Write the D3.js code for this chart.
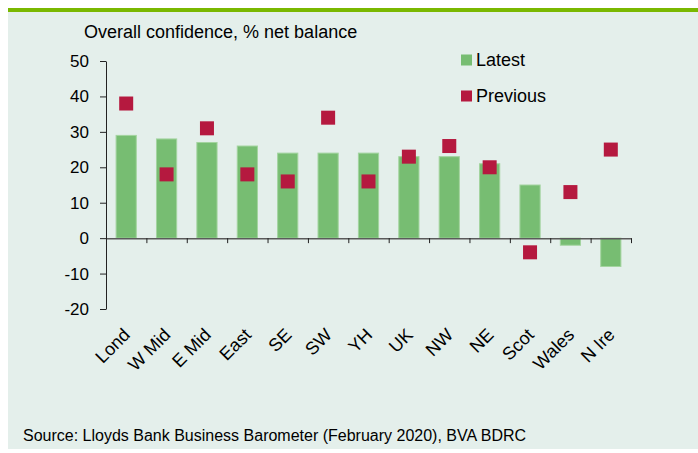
<!DOCTYPE html>
<html>
<head>
<meta charset="utf-8">
<script src="https://cdn.jsdelivr.net/npm/d3@7"></script>
<style>
  body { margin: 0; background: #fff; }
  svg { display: block; font-family: "Liberation Sans", Arial, sans-serif; }
  .axis text { font-size: 17px; fill: #000; }
</style>
</head>
<body>
<div class="chart"></div>
<script>
// data
const regions = ["Lond", "W Mid", "E Mid", "East", "SE", "SW", "YH", "UK", "NW", "NE", "Scot", "Wales", "N Ire"];
const latest = [29, 28, 27, 26, 24, 24, 24, 23, 23, 21, 15, -2, -8];
const previous = [38, 18, 31, 18, 16, 34, 16, 23, 26, 20, -4, 13, 25];
const yTicks = [-20, -10, 0, 10, 20, 30, 40, 50];

const W = 698, H = 453;
const svg = d3.select(".chart").append("svg")
    .attr("width", W)
    .attr("height", H);

// panel background + green rule on top
svg.append("rect")
    .attr("x", 8).attr("y", 8)
    .attr("width", W - 8).attr("height", 441)
    .attr("fill", "#e4efeb");
svg.append("rect")
    .attr("x", 8).attr("y", 8)
    .attr("width", W - 8).attr("height", 4)
    .attr("fill", "#7ab800");

const plot = { left: 106, right: 631, top: 61, bottom: 309 };

const x = d3.scaleBand()
    .domain(regions)
    .range([plot.left, plot.right])
    .padding(0);
const xEdge = d3.scaleLinear()
    .domain([0, regions.length])
    .range([plot.left, plot.right]);
const y = d3.scaleLinear()
    .domain([-20, 50])
    .range([plot.bottom, plot.top]);

// bars
const barW = x.bandwidth() * 0.5;
svg.append("g").selectAll("rect")
    .data(latest)
    .join("rect")
    .attr("x", (d, i) => x(regions[i]) + (x.bandwidth() - barW) / 2)
    .attr("y", d => y(Math.max(0, d)))
    .attr("width", barW)
    .attr("height", d => Math.abs(y(d) - y(0)))
    .attr("fill", "#77bd72")
    .attr("stroke", "#a3d49f")
    .attr("stroke-width", 1);

// x axis on zero line, ticks between categories
const xAxis = svg.append("g")
    .attr("class", "axis x-axis")
    .attr("transform", `translate(0,${y(0)})`)
    .call(d3.axisBottom(xEdge).tickValues(d3.range(regions.length + 1)).tickFormat("").tickSize(5).tickSizeOuter(0));
xAxis.select(".domain").attr("stroke", "#5a5a5a").attr("stroke-width", 1.5);
xAxis.selectAll(".tick line").attr("stroke", "#222");

// y axis (plain hyphen for negatives, as in the source)
const yAxis = svg.append("g")
    .attr("class", "axis y-axis")
    .attr("transform", `translate(${plot.left},0)`)
    .call(d3.axisLeft(y).tickValues(yTicks).tickFormat(d => String(d)).tickSize(6).tickSizeOuter(0).tickPadding(11));
yAxis.select(".domain").attr("stroke", "#222");
yAxis.selectAll(".tick line").attr("stroke", "#222");

// previous markers
const mk = 14;
svg.append("g").selectAll("rect")
    .data(previous)
    .join("rect")
    .attr("x", (d, i) => x(regions[i]) + x.bandwidth() / 2 - mk / 2)
    .attr("y", d => y(d) - mk / 2)
    .attr("width", mk)
    .attr("height", mk)
    .attr("fill", "#b5193f");

// category labels, rotated
svg.append("g").selectAll("text")
    .data(regions)
    .join("text")
    .attr("transform", d => `translate(${x(d) + x.bandwidth() / 2 + 5},${336}) rotate(-45)`)
    .attr("text-anchor", "end")
    .attr("font-size", 18)
    .text(d => d);

// title
svg.append("text")
    .attr("x", 84).attr("y", 38)
    .attr("font-size", 18)
    .text("Overall confidence, % net balance");

// legend
const legend = [
    { name: "Latest", color: "#77bd72", y: 60 },
    { name: "Previous", color: "#b5193f", y: 96 }
];
const lg = svg.append("g").selectAll("g")
    .data(legend)
    .join("g")
    .attr("transform", d => `translate(461,${d.y})`);
lg.append("rect")
    .attr("x", 0).attr("y", -5.5)
    .attr("width", 11).attr("height", 11)
    .attr("fill", d => d.color);
lg.append("text")
    .attr("x", 15).attr("y", 6)
    .attr("font-size", 18)
    .text(d => d.name);

// source
svg.append("text")
    .attr("x", 23).attr("y", 441)
    .attr("font-size", 16)
    .text("Source: Lloyds Bank Business Barometer (February 2020), BVA BDRC");
</script>
</body>
</html>
